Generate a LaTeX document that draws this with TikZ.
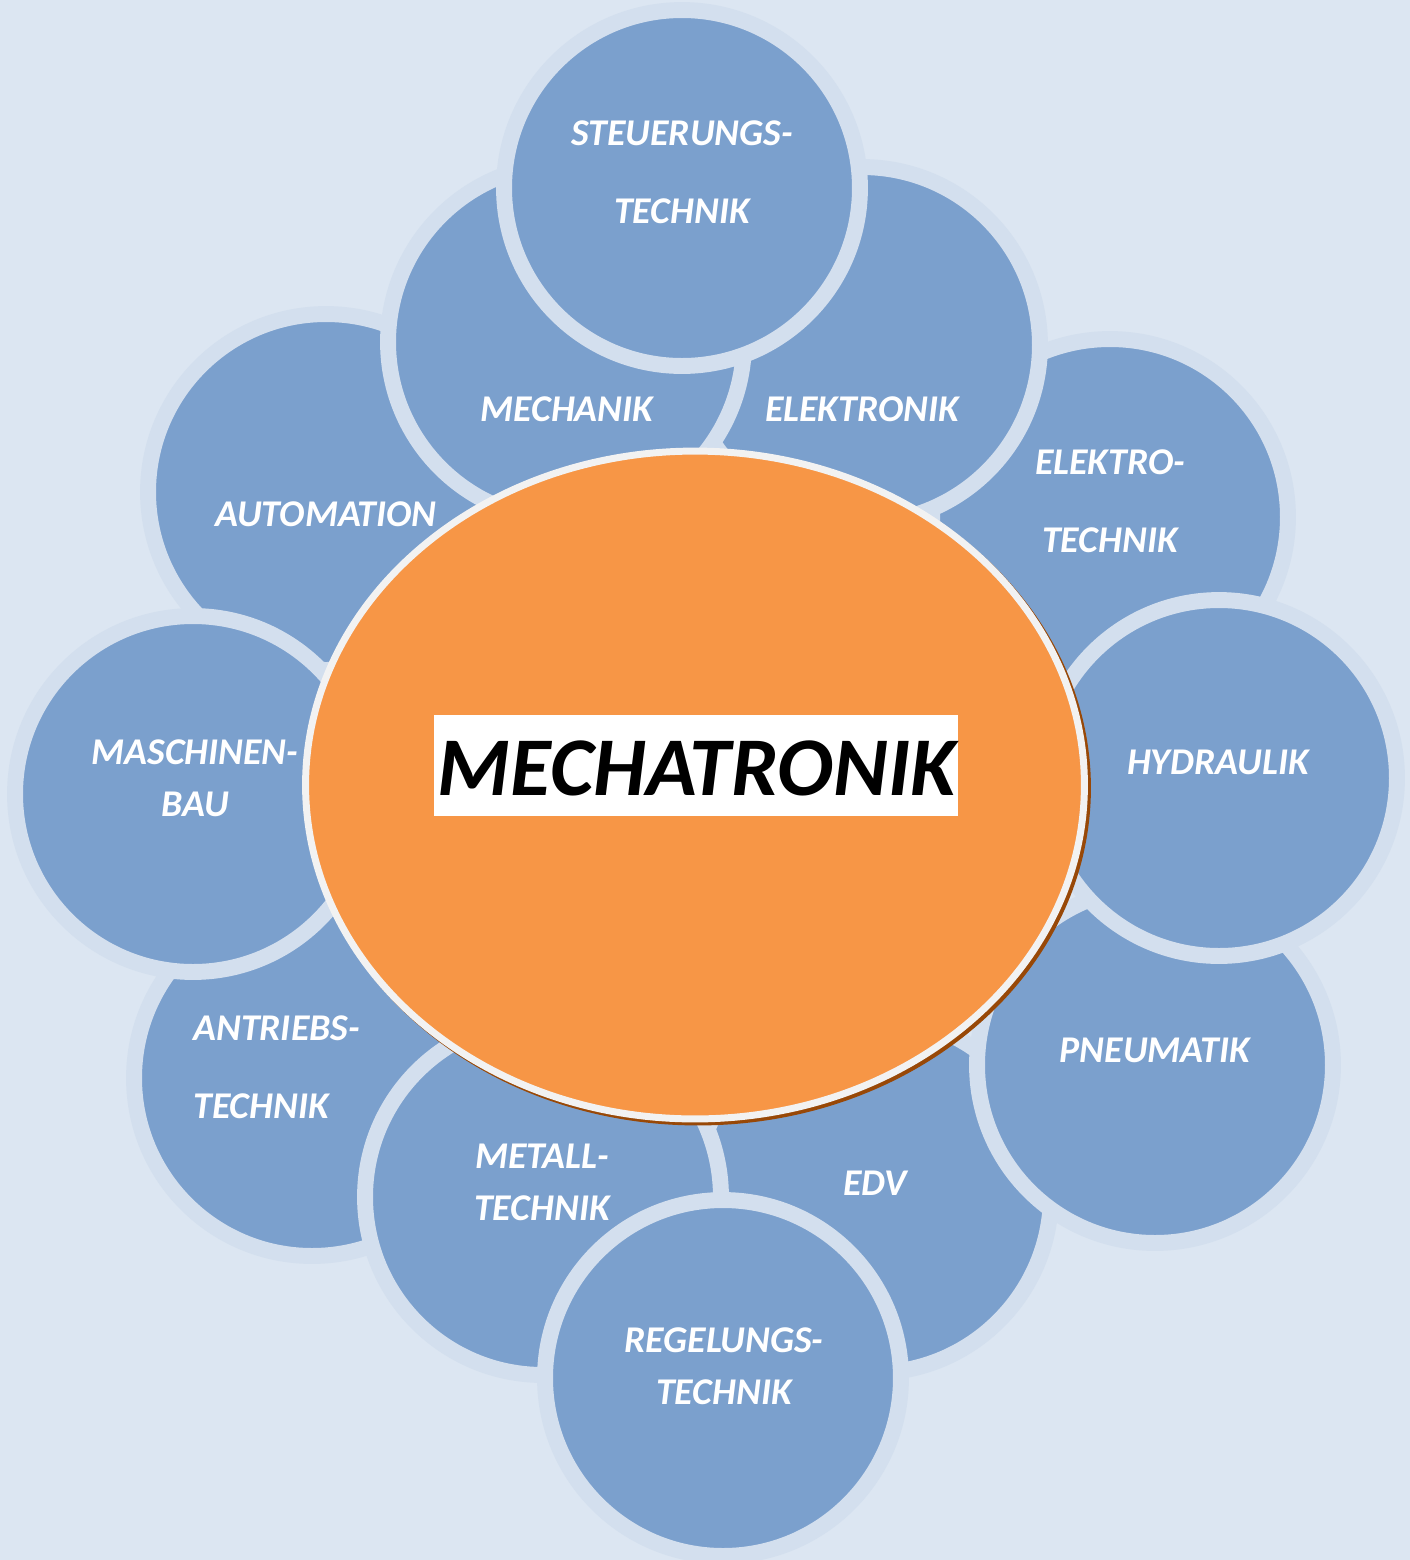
\documentclass[tikz,border=0pt]{standalone}
\usepackage{fontspec}
\setmainfont{Carlito}
\usetikzlibrary{shapes.geometric}
\definecolor{bgc}{HTML}{DCE6F2}
\definecolor{haloc}{HTML}{D3DFEE}
\definecolor{circc}{HTML}{7BA0CD}
\definecolor{orangec}{HTML}{F79646}
\definecolor{rimc}{HTML}{F2F2F2}
\definecolor{shadc}{HTML}{984807}
\tikzset{
  topic/.style={circle, fill=circc, draw=haloc, line width=9.07pt, minimum size=7.12cm, inner sep=0pt},
  lbl/.style={text=white, font=\fontsize{21.5}{29.5}\selectfont\bfseries\itshape, align=center, inner sep=0pt},
}
\begin{document}
\begin{tikzpicture}[x=0.02cm, y=-0.02cm]
\fill[bgc] (0,0) rectangle (1410,1560);
\useasboundingbox (0,0) rectangle (1410,1560);
% circles, back to front
\node[topic] (auto) at (326,492) {};
\node[topic] (antr) at (312,1078) {};
\node[topic] (masch) at (193,794) {};
\node[topic] (edv) at (873,1195) {};
\node[topic] (metall) at (543,1197) {};
\node[topic] (regel) at (723,1378) {};
\node[topic] (pneu) at (1155,1065) {};
\node[topic] (etech) at (1110,517) {};
\node[topic] (hydr) at (1219,778) {};
\node[topic] (elek) at (862,345) {};
\node[topic] (mech) at (566,342) {};
\node[topic] (steu) at (682,188) {};
% central ellipse
\node[ellipse, fill=shadc, minimum width=15.72cm, minimum height=13.5cm, inner sep=0pt] (shadow) at (698,788) {};
\node[ellipse, fill=orangec, draw=rimc, line width=3.97pt, minimum width=15.58cm, minimum height=13.36cm, inner sep=0pt] (center) at (695,785) {};
\node[fill=white, minimum width=10.48cm, minimum height=2.02cm, inner sep=0pt] (titlebox) at (696,765) {};
\node[font=\fontsize{47.5}{50}\selectfont\bfseries\itshape, inner sep=0pt] (title) at (697,768) {MECHATRONIK};
% labels
\node[lbl] (tsteu) at (682,172) {STEUERUNGS-\\[14.7pt]TECHNIK};
\node[lbl] (tmech) at (567,409) {MECHANIK};
\node[lbl] (telek) at (862,409) {ELEKTRONIK};
\node[lbl] (tetech) at (1110,501) {ELEKTRO-\\[14.7pt]TECHNIK};
\node[lbl] (thydr) at (1218,762) {HYDRAULIK};
\node[lbl] (tpneu) at (1155,1050) {PNEUMATIK};
\node[lbl] (tedv) at (875,1183) {EDV};
\node[lbl] (tregel) at (724,1366) {REGELUNGS-\\TECHNIK};
\node[lbl] (tmetall) at (542,1182) {METALL-\\TECHNIK};
\node[lbl, align=left, anchor=west] (tantr) at (193,1067) {ANTRIEBS-\\[14.7pt]TECHNIK};
\node[lbl] (tmasch) at (195,778) {MASCHINEN-\\BAU};
\node[lbl] (tauto) at (326,514) {AUTOMATION};
\end{tikzpicture}
\end{document}
